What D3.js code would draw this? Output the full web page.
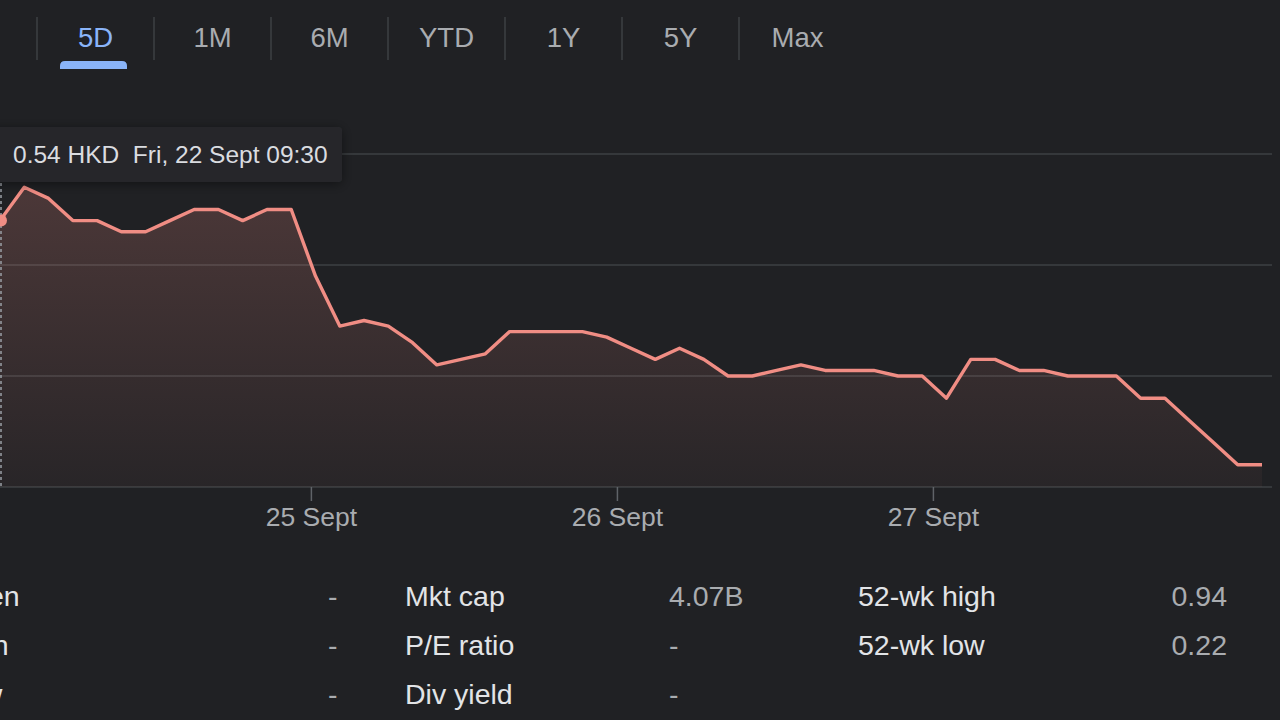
<!DOCTYPE html>
<html><head><meta charset="utf-8">
<script src="https://cdn.jsdelivr.net/npm/d3@7"></script>
<style>
html,body{margin:0;padding:0;background:#202124;overflow:hidden}
svg{display:block;font-family:"Liberation Sans",Arial,Helvetica,sans-serif}
</style></head><body>
<svg id="c" width="1280" height="720"></svg>
<script>
// ---- data ----
const ranges = ["5D", "1M", "6M", "YTD", "1Y", "5Y", "Max"];
const activeRange = "5D";
const prices = [
  0.54, 0.57, 0.56, 0.54, 0.54, 0.53, 0.53, 0.54, 0.55, 0.55, 0.54, 0.55, 0.55,
  0.49, 0.445, 0.45, 0.445, 0.43, 0.41, 0.415, 0.42, 0.44, 0.44, 0.44, 0.44, 0.435,
  0.425, 0.415, 0.425, 0.415, 0.40, 0.40, 0.405, 0.41, 0.405, 0.405, 0.405, 0.40, 0.40,
  0.38, 0.415, 0.415, 0.405, 0.405, 0.40, 0.40, 0.40, 0.38, 0.38, 0.36, 0.34, 0.32, 0.32
];
const dayLabels = ["25 Sept", "26 Sept", "27 Sept"];
const dayTickIndex = [12.81, 25.42, 38.44];
const gridValues = [0.30, 0.40, 0.50, 0.60];
const tooltipIndex = 0;
const tooltipCurrency = "HKD";
const tooltipTime = "Fri, 22 Sept 09:30";
const statLabelsA = ["Open", "High", "Low"];
const statValuesA = ["-", "-", "-"];
const statLabelsB = ["Mkt cap", "P/E ratio", "Div yield"];
const statValuesB = ["4.07B", "-", "-"];
const statLabelsC = ["52-wk high", "52-wk low"];
const statValuesC = ["0.94", "0.22"];

// ---- drawing ----
const svg = d3.select("#c");
const lineColor = "#f08d84";

// tabs
const tabScale = d3.scaleBand().domain(ranges).range([37, 856]);
const tabs = svg.append("g");
tabs.selectAll("line.sep").data(ranges).join("line")
  .attr("x1", d => tabScale(d)).attr("x2", d => tabScale(d))
  .attr("y1", 17).attr("y2", 60)
  .attr("stroke", "#3c4043").attr("stroke-width", 1.5);
tabs.selectAll("text").data(ranges).join("text")
  .attr("x", d => tabScale(d) + tabScale.bandwidth() / 2)
  .attr("y", 47)
  .attr("text-anchor", "middle")
  .attr("font-size", 27.5)
  .attr("fill", d => d === activeRange ? "#8ab4f8" : "#a9acb0")
  .text(d => d);
{
  const cx = tabScale(activeRange) + tabScale.bandwidth() / 2 - 2;
  const w = 67, y0 = 61, h = 8, r = 5;
  const x0 = cx - w / 2;
  tabs.append("path")
    .attr("d", `M${x0},${y0 + h} L${x0},${y0 + r} Q${x0},${y0} ${x0 + r},${y0} L${x0 + w - r},${y0} Q${x0 + w},${y0} ${x0 + w},${y0 + r} L${x0 + w},${y0 + h} Z`)
    .attr("fill", "#8ab4f8");
}

// scales
const x = d3.scaleLinear().domain([0, prices.length - 1]).range([0, 1262]);
const y = d3.scaleLinear().domain([0.30, 0.60]).range([487, 154]);

// gradient
const defs = svg.append("defs");
const grad = defs.append("linearGradient").attr("id", "areaGrad")
  .attr("gradientUnits", "userSpaceOnUse")
  .attr("x1", 0).attr("x2", 0).attr("y1", y(d3.max(prices))).attr("y2", y(0.30));
grad.append("stop").attr("offset", 0).attr("stop-color", lineColor).attr("stop-opacity", 0.21);
grad.append("stop").attr("offset", 1).attr("stop-color", lineColor).attr("stop-opacity", 0.04);
const shadow = defs.append("filter").attr("id", "shadow")
  .attr("x", "-20%").attr("y", "-50%").attr("width", "140%").attr("height", "200%");
shadow.append("feDropShadow").attr("dx", 0).attr("dy", 2).attr("stdDeviation", 6)
  .attr("flood-color", "#000").attr("flood-opacity", 0.45);

// gridlines
svg.append("g").selectAll("line").data(gridValues).join("line")
  .attr("x1", 0).attr("x2", 1272)
  .attr("y1", d => y(d)).attr("y2", d => y(d))
  .attr("stroke", "#3c4043").attr("stroke-width", 1.5);

// area + line
svg.append("path").datum(prices)
  .attr("d", d3.area().x((d, i) => x(i)).y0(y(0.30)).y1(d => y(d)))
  .attr("fill", "url(#areaGrad)");
svg.append("path").datum(prices)
  .attr("d", d3.line().x((d, i) => x(i)).y(d => y(d)))
  .attr("fill", "none").attr("stroke", lineColor).attr("stroke-width", 3.4)
  .attr("stroke-linejoin", "round");

// x axis
const xAxis = d3.axisBottom(x).tickValues(dayTickIndex)
  .tickFormat((d, i) => dayLabels[i]).tickSize(14).tickPadding(6);
const gx = svg.append("g").attr("transform", `translate(0,${y(0.30)})`).call(xAxis);
gx.select(".domain").remove();
gx.selectAll(".tick line").attr("stroke", "#5f6368").attr("stroke-width", 1.5);
gx.selectAll(".tick text").attr("fill", "#a9acb0").attr("font-size", 26.5)
  .attr("font-family", "Liberation Sans, Arial, sans-serif");

// hover marker
const hx = x(tooltipIndex) + 1, hy = y(prices[tooltipIndex]);
svg.append("line").attr("x1", hx).attr("x2", hx).attr("y1", 183).attr("y2", y(0.30))
  .attr("stroke", "#9aa0a6").attr("stroke-width", 1.5).attr("stroke-dasharray", "3,3");
svg.append("circle").attr("cx", hx).attr("cy", hy).attr("r", 6).attr("fill", lineColor);

// tooltip
const tip = svg.append("g");
tip.append("rect").attr("x", -10).attr("y", 127).attr("width", 352).attr("height", 55)
  .attr("rx", 4).attr("fill", "#27282b").attr("filter", "url(#shadow)");
tip.append("text").attr("x", 13).attr("y", 163).attr("font-size", 24.5).attr("fill", "#dadce0")
  .attr("xml:space", "preserve")
  .text(`${d3.format(".2f")(prices[tooltipIndex])} ${tooltipCurrency}  ${tooltipTime}`);

// stats table
const rowY = d3.scalePoint().domain([0, 1, 2]).range([606, 704]);
const stats = svg.append("g").attr("font-size", 28.5);
function col(labels, values, lx, vx, vAnchor) {
  stats.append("g").selectAll("text").data(labels).join("text")
    .attr("x", lx).attr("y", (d, i) => rowY(i)).attr("fill", "#e2e4e7").text(d => d);
  stats.append("g").selectAll("text").data(values).join("text")
    .attr("x", vx).attr("y", (d, i) => rowY(i)).attr("fill", "#a9acb0")
    .attr("text-anchor", vAnchor).text(d => d);
}
col(statLabelsA, statValuesA, -50, 328, "start");
col(statLabelsB, statValuesB, 405, 669, "start");
col(statLabelsC, statValuesC, 858, 1227, "end");
</script>
</body></html>
